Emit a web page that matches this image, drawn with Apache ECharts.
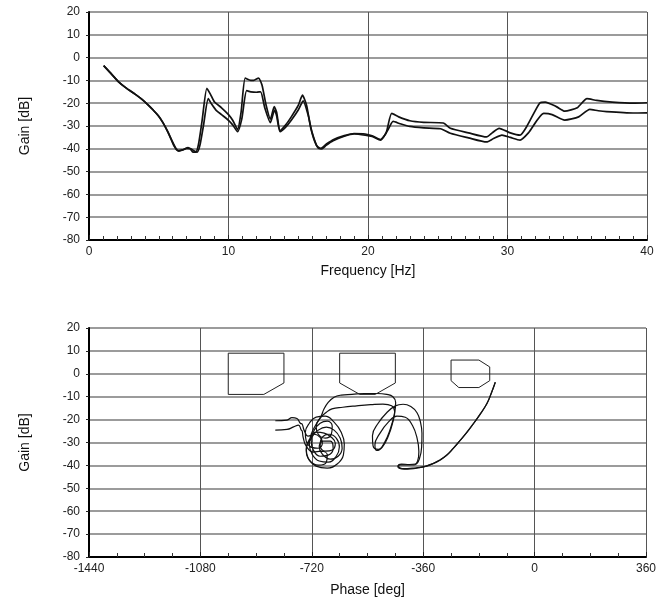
<!DOCTYPE html>
<html>
<head>
<meta charset="utf-8">
<script src="https://cdn.jsdelivr.net/npm/echarts@6/dist/echarts.min.js"></script>
<style>
  html, body { margin: 0; padding: 0; background: #fff; }
  #chart { width: 666px; height: 599px; }
</style>
</head>
<body>
<div id="chart"></div>
<script>
// Frequency response, two measurements (upper / lower trace)
const freqA = [1.05,1.5,2.1,2.7,3.3,3.8,4.25,4.6,4.97,5.3,5.6,5.9,6.1,6.35,6.7,7.0,7.25,7.45,7.65,7.85,8.1,8.45,8.7,9.0,9.5,10.0,10.3,10.65,10.9,11.2,11.6,11.8,12.15,12.4,12.7,13.0,13.28,13.45,13.7,14.1,14.5,15.0,15.3,15.6,15.9,16.3,16.6,17.0,17.5,18.3,19.0,19.8,20.3,20.9,21.3,21.7,22.2,23.0,24.0,25.4,25.9,27.2,28.5,28.9,29.4,30.2,30.9,31.4,32.3,32.7,33.5,34.1,35.0,35.7,36.4,37.5,39.0,40.0];
const gainA = [-3.5,-6.5,-10.5,-13.5,-16,-18.3,-20.8,-23,-25.5,-28.5,-32,-36,-38.8,-40.8,-40.5,-39.8,-40,-41.5,-41.5,-38,-28,-13.5,-16,-19.5,-22,-25,-27.5,-31.5,-24,-9,-10,-10,-9,-12,-21,-27,-21.5,-24,-32,-29.5,-26,-21,-16.5,-21,-31,-38.5,-39.8,-38,-36,-34.2,-33.3,-33.5,-34.3,-36,-33,-24.5,-26,-27.7,-28.4,-28.7,-31,-33,-34.8,-33,-31,-33,-34,-30,-20,-19.5,-21.5,-23.5,-22,-18,-18.8,-19.5,-20,-19.8];
const freqB = [1.05,1.5,2.1,2.7,3.3,3.8,4.25,4.6,4.97,5.3,5.65,5.95,6.2,6.45,6.8,7.1,7.35,7.55,7.75,7.95,8.2,8.55,8.8,9.1,9.5,10.0,10.3,10.65,10.95,11.3,11.6,12.0,12.3,12.6,13.0,13.3,13.45,13.7,14.1,14.5,15.0,15.35,15.7,16.0,16.4,16.7,17.0,17.5,18.3,19.0,19.8,20.3,20.9,21.4,21.8,22.3,23.0,24.0,25.2,25.9,27.2,28.5,29.0,29.6,30.2,30.9,31.5,32.6,33.2,34.1,35.1,35.9,36.5,37.1,39.0,40.0];
const gainB = [-3.5,-6.5,-10.5,-13.5,-16,-18.3,-20.8,-23,-25.5,-28.5,-32.5,-36.5,-39.5,-41,-40.3,-39.5,-40.2,-41,-41.5,-38.5,-30,-18,-20.5,-23,-25,-27.5,-29.5,-32.5,-27,-14.5,-15,-15.2,-15,-22,-28.5,-23,-25.5,-32.5,-30.5,-27.5,-23,-19,-25,-33,-39.5,-40,-38.5,-36.5,-34.5,-33.5,-34,-34.6,-36.2,-32,-28,-29,-30.2,-30.8,-31.2,-33.2,-35.2,-37,-35.5,-34,-35,-36.2,-33,-24.5,-25,-27.4,-26,-22.7,-23.3,-23.7,-24.3,-24.2];

// Nichols plot traces: [phase deg, gain dB], low to high frequency
const nicholsA = [[-127,-3.7],[-140,-8.5],[-154,-13],[-175,-17.5],[-197,-21.7],[-218,-25.5],[-240,-29],[-262,-32.5],[-283,-35.5],[-305,-37.6],[-326,-39.1],[-348,-40.2],[-369,-40.9],[-395,-41.2],[-420,-41.4],[-436,-41],[-440,-40.2],[-430,-39.4],[-405,-39.6],[-385,-39.4],[-372,-37],[-365,-32],[-364,-26],[-369,-21],[-380,-17],[-400,-14.3],[-425,-13.3],[-450,-14],[-478,-17],[-505,-21.5],[-524,-27],[-522,-31.5],[-505,-33],[-485,-30],[-466,-24],[-453,-17.5],[-449,-12.5],[-458,-10],[-478,-9],[-510,-8.6],[-550,-8.6],[-590,-9],[-625,-9.3],[-648,-10.2],[-667,-12.5],[-681,-15.5],
  [-690,-18.5],[-706,-22],[-722,-26.4],[-728,-30.7],[-719,-35.1],[-696,-38.1],[-667,-38.6],[-641,-36],[-631,-32],[-641,-28.1],[-664,-26.4],[-686,-27.7],[-693,-31.2],[-677,-33.8],[-654,-33.3],[-644,-30.3],[-657,-27.7],[-680,-25.9],[-706,-25.5],[-725,-28.1],[-738,-32.5],[-732,-36.8],[-706,-40.3],[-670,-41.2],[-638,-39.4],[-618,-35.5],[-615,-30.7],[-625,-25.5],[-648,-21.1],[-677,-18.5],[-706,-18.9],[-728,-21.6],[-741,-25.5],[-738,-29.4],[-722,-32],[-699,-32.5],[-686,-30.3],[-693,-27.7],[-712,-26.4],[-732,-27.2],[-745,-24.6],[-751,-22],[-757,-21.6],[-768,-19.5],[-784,-19.1],[-800,-20.2],[-838,-20.5]];
const nicholsB = [[-127,-3.7],[-140,-8.5],[-154,-13],[-176,-17.6],[-198,-21.8],[-220,-25.7],[-242,-29.3],[-264,-32.7],[-286,-35.7],[-308,-37.8],[-330,-39.3],[-352,-40.4],[-374,-41],[-400,-41.5],[-422,-41.6],[-438,-41.2],[-442,-40.5],[-433,-39.8],[-410,-39.8],[-390,-39.8],[-378,-38],[-374,-34],[-380,-28],[-395,-22.5],[-418,-19],[-445,-18.5],[-472,-21],[-500,-26],[-516,-31],[-510,-33.5],[-492,-32],[-472,-27],[-458,-21],[-452,-16.5],[-462,-14],[-490,-13.2],[-530,-13.5],[-575,-14],[-620,-14.6],[-655,-15.3],
  [-673,-16.8],[-693,-19.4],[-706,-22.9],[-699,-26.4],[-677,-28.1],[-657,-26.4],[-654,-22.9],[-670,-20.7],[-693,-21.6],[-712,-24.6],[-722,-29],[-715,-33.3],[-693,-36],[-667,-35.5],[-651,-32.5],[-660,-29.4],[-683,-29.4],[-696,-32],[-686,-35.1],[-660,-37.3],[-635,-36],[-622,-32.5],[-628,-28.1],[-648,-24.6],[-673,-23.3],[-699,-24.6],[-722,-28.1],[-738,-33.3],[-728,-37.7],[-699,-39.9],[-673,-38.6],[-670,-35.5],[-690,-33.8],[-715,-34.2],[-738,-31.6],[-748,-27.7],[-751,-25],[-754,-24.6],[-763,-22.4],[-779,-23.2],[-800,-24.3],[-838,-24.6]];

// Stability-margin boundary regions on the Nichols plane
const boundary1 = [[-990,9],[-810,9],[-810,-4],[-875,-9],[-990,-9],[-990,9]];
const boundary2 = [[-630,9],[-450,9],[-450,-4],[-515,-9],[-565,-9],[-630,-4],[-630,9]];
const boundary3 = [[-270,6],[-180,6],[-145,3],[-145,-3],[-180,-6],[-245,-6],[-270,-3],[-270,6]];

// Axis ranges [min, max, interval]
const freqRange = [0, 40, 10];
const phaseRange = [-1440, 360, 360];
const gainRange = [-80, 20, 10];

const zip = (xs, ys) => xs.map((x, i) => [x, ys[i]]);

const FONT = 'Liberation Sans';
const labelStyle = { color: '#222', fontFamily: FONT, fontSize: 12, formatter: v => String(v) };
const nameStyle = { color: '#111', fontFamily: FONT, fontSize: 14 };

function xAxisCfg(range, name, minorSplit, gridIndex, gap) {
  return {
    type: 'value', gridIndex, min: range[0], max: range[1], interval: range[2],
    name, nameLocation: 'middle', nameGap: gap, nameTextStyle: nameStyle,
    axisLine: { onZero: false, lineStyle: { color: '#000', width: 2 } },
    axisTick: { show: true, inside: true, length: 5, lineStyle: { color: '#222', width: 1 } },
    minorTick: { show: true, splitNumber: minorSplit, length: 4, lineStyle: { color: '#333', width: 1 } },
    axisLabel: Object.assign({ margin: 6 }, labelStyle),
    splitLine: { show: true, lineStyle: { color: '#555', width: 1 } }
  };
}
function yAxisCfg(gridIndex) {
  return {
    type: 'value', gridIndex, min: gainRange[0], max: gainRange[1], interval: gainRange[2],
    name: 'Gain [dB]', nameLocation: 'middle', nameGap: 57, nameTextStyle: nameStyle,
    axisLine: { onZero: false, lineStyle: { color: '#000', width: 2 } },
    axisTick: { show: true, length: 3, lineStyle: { color: '#222', width: 1 } },
    axisLabel: Object.assign({ margin: 9 }, labelStyle),
    splitLine: { show: true, lineStyle: { color: '#7a7a7a', width: 1.5 } }
  };
}

const curveStyle = { color: '#111', width: 1.7 };
const nicholsStyle = { color: '#111', width: 1.2 };
const boxStyle = { color: '#222', width: 1 };

const chart = echarts.init(document.getElementById('chart'), null, { renderer: 'canvas' });
chart.setOption({
  animation: false,
  backgroundColor: '#fff',
  grid: [
    { left: 89, right: 19, top: 12, height: 228 },
    { left: 89, right: 20, top: 328, height: 229 }
  ],
  xAxis: [
    xAxisCfg(freqRange, 'Frequency [Hz]', 10, 0, 24),
    xAxisCfg(phaseRange, 'Phase [deg]', 4, 1, 26)
  ],
  yAxis: [yAxisCfg(0), yAxisCfg(1)],
  series: [
    { type: 'line', xAxisIndex: 0, yAxisIndex: 0, data: zip(freqA, gainA), showSymbol: false, smooth: 0.2, lineStyle: curveStyle },
    { type: 'line', xAxisIndex: 0, yAxisIndex: 0, data: zip(freqB, gainB), showSymbol: false, smooth: 0.2, lineStyle: curveStyle },
    { type: 'line', xAxisIndex: 1, yAxisIndex: 1, data: nicholsA, showSymbol: false, smooth: 0.45, lineStyle: nicholsStyle },
    { type: 'line', xAxisIndex: 1, yAxisIndex: 1, data: nicholsB, showSymbol: false, smooth: 0.45, lineStyle: nicholsStyle },
    { type: 'line', xAxisIndex: 1, yAxisIndex: 1, data: boundary1, showSymbol: false, lineStyle: boxStyle },
    { type: 'line', xAxisIndex: 1, yAxisIndex: 1, data: boundary2, showSymbol: false, lineStyle: boxStyle },
    { type: 'line', xAxisIndex: 1, yAxisIndex: 1, data: boundary3, showSymbol: false, lineStyle: boxStyle }
  ]
});
</script>
</body>
</html>
